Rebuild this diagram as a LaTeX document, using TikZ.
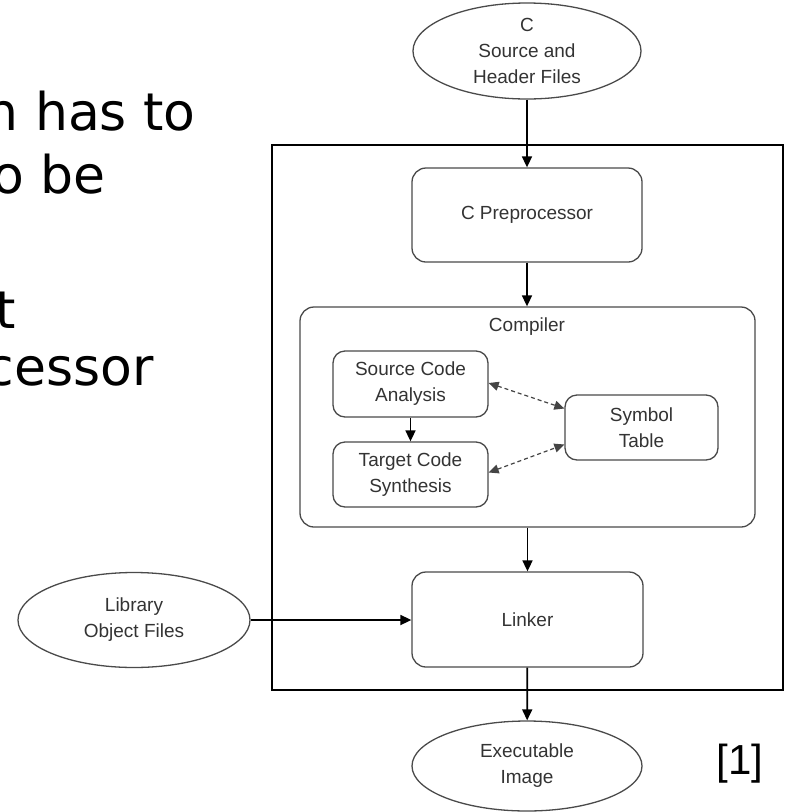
\documentclass[tikz,border=0pt]{standalone}
\usepackage{fontspec}
\setmainfont{Liberation Sans}
\newfontfamily\slideface{DejaVu Sans}
\usetikzlibrary{arrows.meta,shapes.geometric}

\definecolor{boxgray}{HTML}{4A4A4A}
\definecolor{txtgray}{HTML}{333333}
\definecolor{dashgray}{HTML}{444444}
\newcommand\diagfont{\fontsize{19}{26}\selectfont}
\newcommand\slidefont{\slideface\fontsize{52}{63}\selectfont}

\begin{document}
\begin{tikzpicture}[x=1pt,y=-1pt,
  stagebox/.style={draw=boxgray, line width=1.3pt, rounded corners=14pt,
    align=center, text=txtgray, font=\diagfont, inner sep=0pt},
  filenode/.style={draw=boxgray, line width=1.3pt, ellipse, align=center,
    text=txtgray, font=\diagfont, inner sep=0pt},
  flow/.style={line width=1.7pt, -{Triangle[length=11pt,width=10pt]}},
  lookup/.style={draw=dashgray, line width=1.2pt, dash pattern=on 4pt off 3pt,
    {Triangle[length=10pt,width=9pt]}-{Triangle[length=10pt,width=9pt]}},
  slide/.style={font=\slidefont, inner sep=0pt}
]
\useasboundingbox (0,0) rectangle (786,812);
\clip (0,0) rectangle (786,812);

% slide text running in from the left
\node[slide, anchor=base east] (l1) at (196,130) {n has to};
\node[slide, anchor=base east] (l2) at (106,193) {o be};
\node[slide, anchor=base east] (l3) at (16,328) {t};
\node[slide, anchor=base east] (l4) at (154,385) {cessor};

% enclosing build system frame
\node[draw=black, line width=1.6pt, minimum width=511pt, minimum height=545pt,
  inner sep=0pt] (sys) at (527.5,417.5) {};

% inputs and output
\node[filenode, minimum width=228pt, minimum height=96pt] (src) at (527,51)
  {C\\Source and\\Header Files};
\node[filenode, minimum width=232pt, minimum height=95pt] (lib) at (134,620)
  {Library\\Object Files};
\node[filenode, minimum width=230pt, minimum height=90pt] (exe) at (527,766)
  {Executable\\Image};

% stages
\node[stagebox, minimum width=230pt, minimum height=94pt] (pre) at (527,215)
  {C Preprocessor};
\node[stagebox, minimum width=455pt, minimum height=220pt] (comp) at (527.5,417) {};
\node[text=txtgray, font=\diagfont, inner sep=0pt] (comptitle) at (527,327) {Compiler};
\node[stagebox, rounded corners=12pt, minimum width=155pt, minimum height=66pt]
  (sca) at (410.5,384) {Source Code\\Analysis};
\node[stagebox, rounded corners=12pt, minimum width=155pt, minimum height=65pt]
  (tcs) at (410.5,474.5) {Target Code\\Synthesis};
\node[stagebox, rounded corners=12pt, minimum width=153pt, minimum height=65pt]
  (sym) at (641.5,427.5) {Symbol\\Table};
\node[stagebox, minimum width=231pt, minimum height=95pt] (link) at (527.5,619.5)
  {Linker};

% main flow
\draw[flow] (src) -- (pre);
\draw[flow] (pre.south) -- (pre.south |- comp.north);
\draw[flow] (sca) -- (tcs);
\draw[flow] (comp.south -| link.north) -- (link.north);
\draw[flow] (lib.east) -- (lib.east -| link.west);
\draw[flow] (link) -- (exe);

% symbol table lookups
\draw[lookup] ([yshift=1pt]sca.east) -- ([yshift=19pt]sym.west);
\draw[lookup] ([yshift=2pt]tcs.east) -- ([yshift=-17pt]sym.west);

% citation
\node[font=\fontsize{42}{46}\selectfont, anchor=base, inner sep=0pt] (cite) at (740,774) {[1]};
\end{tikzpicture}
\end{document}
